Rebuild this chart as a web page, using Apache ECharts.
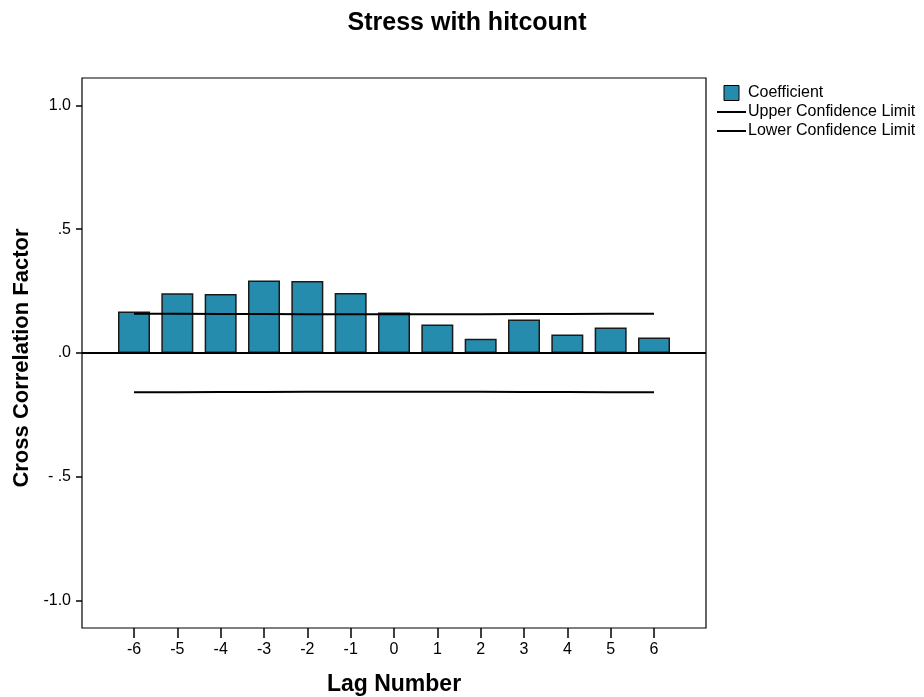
<!DOCTYPE html>
<html>
<head>
<meta charset="utf-8">
<script src="https://cdn.jsdelivr.net/npm/echarts@6/dist/echarts.min.js"></script>
<style>
  html, body { margin: 0; padding: 0; background: #fff; }
  #chart { width: 924px; height: 697px; }
</style>
</head>
<body>
<div id="chart"></div>
<script>
// Cross-correlation of stress with hitcount, by lag
const lags = [-6, -5, -4, -3, -2, -1, 0, 1, 2, 3, 4, 5, 6];
const coefficient = [0.168, 0.241, 0.238, 0.293, 0.291, 0.242, 0.163, 0.115, 0.058, 0.135, 0.075, 0.103, 0.063];
const upperLimit = [0.158, 0.158, 0.157, 0.157, 0.156, 0.156, 0.156, 0.156, 0.156, 0.157, 0.157, 0.158, 0.158];
const lowerLimit = upperLimit.map(v => -v);
const yTicks = [-1.0, -0.5, 0.0, 0.5, 1.0];

const FONT = 'Liberation Sans, Arial, sans-serif';

// ".5", ".0", "- .5", "-1.0" style labels
function fmtY(v) {
  if (v === -1) return '-1.0';
  const s = Math.abs(v).toFixed(1).replace(/^0/, '');
  return v < 0 ? '- ' + s : s;
}

const chart = echarts.init(document.getElementById('chart'), null, { renderer: 'canvas' });

chart.setOption({
  animation: false,
  backgroundColor: '#ffffff',
  title: {
    text: 'Stress with hitcount',
    left: 462, top: 6, textAlign: 'center',
    textStyle: { fontFamily: FONT, fontSize: 25, fontWeight: 'bold', color: '#000' }
  },
  legend: {
    left: 712, top: 80, orient: 'vertical', itemGap: 3,
    itemWidth: 29, itemHeight: 15,
    textStyle: { fontFamily: FONT, fontSize: 16, color: '#000', padding: [0, 0, 0, -3] },
    data: [
      { name: 'Coefficient', icon: 'path://M8,0 H23 V15 H8 Z', itemStyle: { color: '#268cad', borderColor: '#000', borderWidth: 1 } },
      { name: 'Upper Confidence Limit', icon: 'path://M0,6.5 H29 V8.5 H0 Z', itemStyle: { color: '#000' } },
      { name: 'Lower Confidence Limit', icon: 'path://M0,6.5 H29 V8.5 H0 Z', itemStyle: { color: '#000' } }
    ]
  },
  grid: {
    left: 82, top: 78, width: 624, height: 550,
    outerBoundsMode: 'none', containLabel: false,
    show: true, borderColor: '#000', borderWidth: 1.2, backgroundColor: 'transparent'
  },
  xAxis: {
    type: 'value', min: -7.2, max: 7.2,
    name: 'Lag Number', nameLocation: 'middle', nameGap: 45,
    nameTextStyle: { fontFamily: FONT, fontSize: 23, fontWeight: 'bold', color: '#000' },
    axisLine: { show: false, onZero: false },
    splitLine: { show: false },
    axisTick: { show: true, customValues: lags, length: 10, lineStyle: { color: '#000', width: 1.5 } },
    axisLabel: { customValues: lags, fontFamily: FONT, fontSize: 16, color: '#000', margin: 14, formatter: v => String(v) }
  },
  yAxis: {
    type: 'value', min: -1.11, max: 1.11,
    name: 'Cross Correlation Factor', nameLocation: 'middle', nameGap: 48,
    nameTextStyle: { fontFamily: FONT, fontSize: 22, fontWeight: 'bold', color: '#000', padding: [0, 10, 0, 0] },
    axisLine: { show: false, onZero: false },
    splitLine: { show: false },
    axisTick: { show: true, customValues: yTicks, length: 6, lineStyle: { color: '#000', width: 1.5 } },
    axisLabel: { customValues: yTicks, fontFamily: FONT, fontSize: 16, color: '#000', margin: 11, formatter: fmtY }
  },
  series: [
    {
      name: 'Coefficient', type: 'bar', barWidth: 32,
      data: lags.map((l, i) => [l, coefficient[i]]),
      itemStyle: { color: '#268cad', borderColor: '#1a1a1a', borderWidth: 1.5 },
      markLine: {
        silent: true, symbol: 'none', label: { show: false },
        lineStyle: { color: '#000', width: 2, type: 'solid' },
        data: [{ yAxis: 0 }],
        z: 5
      }
    },
    {
      name: 'Upper Confidence Limit', type: 'line', symbol: 'none',
      data: lags.map((l, i) => [l, upperLimit[i]]),
      lineStyle: { color: '#000', width: 2 }, itemStyle: { color: '#000' }, z: 4
    },
    {
      name: 'Lower Confidence Limit', type: 'line', symbol: 'none',
      data: lags.map((l, i) => [l, lowerLimit[i]]),
      lineStyle: { color: '#000', width: 2 }, itemStyle: { color: '#000' }, z: 4
    }
  ]
});
</script>
</body>
</html>
